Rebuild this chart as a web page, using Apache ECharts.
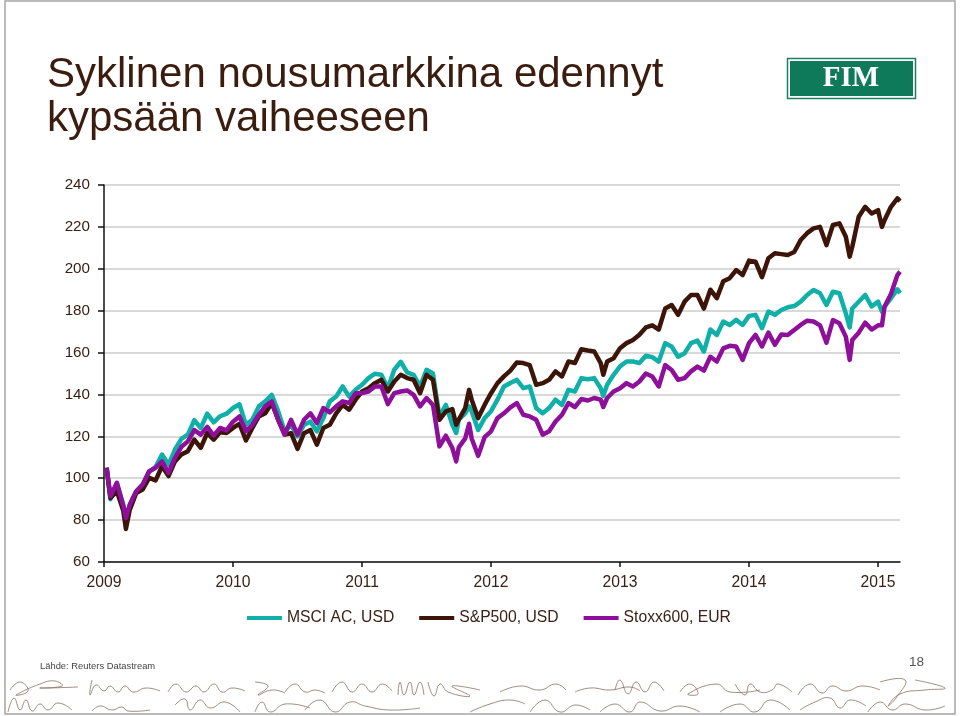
<!DOCTYPE html>
<html>
<head>
<meta charset="utf-8">
<title>Syklinen nousumarkkina</title>
<script src="https://cdn.jsdelivr.net/npm/echarts@6/dist/echarts.min.js"></script>
<style>
  html, body { margin: 0; padding: 0; background: #fff; }
  #chart { width: 960px; height: 716px; }
</style>
</head>
<body>
<div id="chart"></div>
<script>
const titleText = 'Syklinen nousumarkkina edennyt\nkypsään vaiheeseen';
const sourceText = 'Lähde: Reuters Datastream';
const pageNo = '18';
const yearTicks = [2009, 2010, 2011, 2012, 2013, 2014, 2015];

const dates = [
  2009.02, 2009.05, 2009.10, 2009.15, 2009.17, 2009.20, 2009.25, 2009.30, 2009.35, 2009.40, 2009.45,
  2009.50, 2009.55, 2009.60, 2009.65, 2009.70, 2009.75, 2009.80, 2009.85, 2009.90, 2009.95,
  2010.00, 2010.05, 2010.10, 2010.15, 2010.20, 2010.25, 2010.30, 2010.35, 2010.40, 2010.45,
  2010.50, 2010.55, 2010.60, 2010.65, 2010.70, 2010.75, 2010.80, 2010.85, 2010.90, 2010.95,
  2011.00, 2011.05, 2011.10, 2011.15, 2011.20, 2011.25, 2011.30, 2011.35, 2011.40, 2011.45, 2011.50,
  2011.55, 2011.60, 2011.65, 2011.70, 2011.73, 2011.75, 2011.80, 2011.83, 2011.85, 2011.90, 2011.95,
  2012.00, 2012.05, 2012.10, 2012.15, 2012.20, 2012.25, 2012.30, 2012.35, 2012.40, 2012.45, 2012.50,
  2012.55, 2012.60, 2012.65, 2012.70, 2012.75, 2012.80, 2012.85, 2012.87, 2012.90, 2012.95,
  2013.00, 2013.05, 2013.10, 2013.15, 2013.20, 2013.25, 2013.30, 2013.35, 2013.40, 2013.45,
  2013.50, 2013.55, 2013.60, 2013.65, 2013.70, 2013.75, 2013.80, 2013.85, 2013.90, 2013.95,
  2014.00, 2014.05, 2014.10, 2014.15, 2014.20, 2014.25, 2014.30, 2014.35, 2014.40, 2014.45, 2014.50,
  2014.55, 2014.60, 2014.65, 2014.70, 2014.75, 2014.78, 2014.80, 2014.85, 2014.90, 2014.95,
  2015.00, 2015.03, 2015.05, 2015.10, 2015.15, 2015.17
];

const msci = [
  105, 90, 97.5, 87.4, 81, 87.4, 93.8, 97, 103, 105.4, 111.3,
  106.5, 113.7, 118.8, 120.8, 127.7, 124, 130.8, 126.7, 129.6, 130.8,
  133.5, 135.3, 125.5, 128, 134.3, 136.7, 139.8, 132, 122.4, 125.5,
  120, 125.5, 127, 122.4, 128.7, 136.7, 139, 143.8, 139, 142.2,
  144.6, 147.8, 149.9, 149.4, 143, 151.8, 155.6, 150.5, 149.4, 143.8, 151.8,
  150, 129.5, 135, 125.5, 121.6, 128, 131, 134.3, 132, 123, 128.7,
  132, 137.5, 143.8, 145.5, 147, 143, 143.8, 133.5, 131, 133.5, 137.5,
  135, 142.2, 141.4, 147.8, 147.3, 147.8, 143, 139.4, 144.6, 149.4,
  153.4, 155.7, 155.7, 155, 158.5, 157.8, 155.7, 164.5, 162.9, 158,
  159.7, 164.5, 165.7, 160.5, 171, 168.4, 174.8, 173.2, 175.6, 173.2,
  177.5, 178, 171.6, 179.6, 178, 180.3, 181.6, 182.2, 184.3, 187.5, 189.9,
  188.3, 182.7, 189, 188.3, 178.7, 172, 181, 184.3, 187.5, 182,
  184.3, 179.5, 181.9, 185.9, 190.2, 188.3
];

const sp500 = [
  105, 90.6, 93.8, 84.3, 75.8, 85, 93, 94.6, 100.2, 99, 105.7,
  101, 108, 111.3, 112.9, 118.4, 114.5, 121.6, 118.4, 122, 121.6,
  124, 126, 118, 124, 129.5, 131, 135.9, 128, 120.8, 121.5,
  114, 121.5, 123, 116, 124, 125.5, 131, 135, 132.7, 137.5,
  141.4, 143, 145.4, 147, 141.4, 146.2, 149.4, 147.8, 147, 140.6, 149.4,
  147, 127.9, 131.9, 133, 125.5, 128, 133.5, 142.2, 137.5, 128.7, 135,
  140.6, 145.4, 148.6, 151.4, 155.3, 155, 154, 144.6, 145.4, 147, 151,
  148.6, 155.7, 155, 161.6, 161, 160.5, 155, 149.4, 155.7, 157.3,
  162.1, 164.5, 166, 168.5, 172, 173, 171, 181, 182.7, 178,
  184.3, 187.5, 187.5, 181, 190, 186, 194, 195.5, 199.4, 197,
  203.9, 203.4, 196, 205, 207.4, 207, 206.6, 208, 213.7, 217, 219.3,
  220, 211.3, 220.9, 221.7, 215.3, 205.8, 210.5, 224.8, 229.6, 226.4,
  228, 220, 223.2, 229.6, 233.6, 232.3
];

const stoxx = [
  105, 91.4, 97.8, 86.6, 81, 87.4, 93.8, 97, 103.3, 105, 108,
  102.5, 109.7, 115, 117.6, 123, 120.8, 124.5, 120.4, 124, 122.9,
  127, 129.5, 122.4, 125.5, 130.3, 134.3, 136.7, 127.9, 120.8, 127.9,
  120.8, 127.9, 131, 126.3, 133.5, 131.4, 134.3, 136.7, 135.9, 140.6,
  140.6, 141.4, 143.8, 143.8, 135.4, 140.6, 141.4, 141.9, 139.8, 134.3, 138.3,
  135, 115.2, 120.3, 114.4, 108, 114.7, 119, 126, 119, 110.7, 119.6,
  122.4, 128.7, 131, 133.8, 135.9, 130.3, 129.5, 127.9, 120.8, 122.4, 127.1,
  130.3, 135.9, 134, 137.8, 137.1, 138.3, 137.5, 134, 138.3, 141.4,
  143, 145.4, 143.8, 146.2, 150, 148.6, 143.8, 154, 151.7, 147,
  147.8, 151, 153.3, 151.4, 158, 155.7, 162, 163.2, 162.9, 156.5,
  164.5, 168.4, 162.9, 169.5, 163.7, 168.6, 168.4, 170.8, 173.2, 175.2, 174.8,
  173, 164.7, 175.5, 174, 167.6, 156.5, 166, 169.5, 174.3, 171,
  173, 173, 181.9, 188, 197, 198.6
];

const textColor = '#3b2115';

function toPairs(values) {
  return dates.map(function (d, i) { return [d, values[i]]; });
}

// allekirjoitukset alareunassa, vain koristeena
const scribbles = [
  [[10,690],[20,682],[28,691],[16,695],[40,684],[55,681],[62,686],[40,688],[78,687]],
  [[8,712],[14,698],[20,710],[26,700],[32,711],[40,704],[48,710],[58,703],[72,710]],
  [[92,680],[90,695],[96,685],[104,691],[110,686],[118,692],[125,686],[133,692],[146,688],[160,691]],
  [[92,711],[100,706],[112,710],[122,707],[128,711],[150,710]],
  [[168,692],[176,684],[186,692],[196,686],[204,692],[214,684],[222,692],[232,688],[245,691]],
  [[175,705],[185,699],[190,710],[200,700],[210,708],[225,702],[240,712]],
  [[255,682],[268,686],[258,695],[272,690],[285,693]],
  [[255,712],[262,702],[270,712],[285,704],[310,708]],
  [[285,692],[295,684],[305,692],[315,690],[325,693]],
  [[305,710],[320,700],[335,712],[350,702],[365,706],[390,710],[420,708]],
  [[332,692],[342,682],[352,692],[362,684],[372,692],[382,684],[392,691]],
  [[398,695],[400,682],[404,695],[410,682],[414,695],[420,682],[424,695]],
  [[428,682],[434,696],[440,684],[448,692],[470,696],[452,686],[480,690]],
  [[470,712],[490,704],[510,700],[525,704]],
  [[500,692],[520,686],[540,690],[556,684],[566,690]],
  [[530,712],[545,700],[560,712],[575,705],[590,710]],
  [[575,692],[590,688],[610,690],[630,687],[640,691]],
  [[615,690],[620,680],[628,694],[636,682],[645,692],[654,682],[664,691]],
  [[600,712],[615,704],[630,712],[640,702],[660,711],[680,706],[700,712]],
  [[680,692],[690,684],[698,694],[688,694],[716,684],[730,692],[760,690]],
  [[720,712],[740,704],[755,712],[770,700],[790,710]],
  [[735,684],[745,695],[750,684],[760,692],[772,690],[778,684],[792,692]],
  [[798,695],[810,684],[822,693],[832,686],[846,691],[862,686],[880,690]],
  [[800,710],[815,702],[830,698],[840,708],[850,700],[866,706]],
  [[880,682],[905,680],[896,698],[888,706],[900,694],[925,690],[945,688],[915,680]],
  [[868,712],[880,702],[892,710],[905,704],[925,710],[945,706]]
];

const chart = echarts.init(document.getElementById('chart'));
const option = {
  animation: false,
  title: {
    text: titleText,
    left: 47,
    top: 53,
    padding: 0,
    textStyle: {
      fontFamily: 'Liberation Sans',
      fontWeight: 'normal',
      fontSize: 42,
      lineHeight: 44,
      color: '#3b1d10'
    }
  },
  grid: { left: 104, top: 185, width: 796, height: 377 },
  xAxis: {
    type: 'value',
    min: 2009,
    max: 2015.17,
    splitLine: { show: false },
    axisLine: { lineStyle: { color: '#111', width: 1.5 } },
    axisTick: { customValues: yearTicks, length: 5, lineStyle: { color: '#111', width: 1.5 } },
    axisLabel: {
      customValues: yearTicks,
      margin: 13,
      fontFamily: 'Liberation Sans',
      fontSize: 15.7,
      color: textColor,
      formatter: function (v) { return String(v); }
    }
  },
  yAxis: {
    type: 'value',
    min: 60,
    max: 240,
    interval: 20,
    axisLine: { show: true, lineStyle: { color: '#111', width: 1.5 } },
    axisTick: { show: true, length: 6, lineStyle: { color: '#111', width: 1.5 } },
    splitLine: { lineStyle: { color: '#d9d9d9', width: 2 } },
    axisLabel: {
      margin: 14,
      padding: [4, 0, 0, 0],
      fontFamily: 'Liberation Sans',
      fontSize: 15.2,
      color: textColor
    }
  },
  legend: {
    left: 247,
    top: 610,
    padding: 0,
    icon: 'rect',
    itemWidth: 35,
    itemHeight: 4,
    itemGap: 25,
    textStyle: { fontFamily: 'Liberation Sans', fontSize: 15.7, color: textColor },
    data: ['MSCI AC, USD', 'S&P500, USD', 'Stoxx600, EUR']
  },
  series: [
    { name: 'MSCI AC, USD', type: 'line', data: toPairs(msci), showSymbol: false, symbol: 'none',
      lineStyle: { color: '#10b0a8', width: 4.5, join: 'round' }, itemStyle: { color: '#10b0a8' } },
    { name: 'S&P500, USD', type: 'line', data: toPairs(sp500), showSymbol: false, symbol: 'none',
      lineStyle: { color: '#3d1508', width: 4.5, join: 'round' }, itemStyle: { color: '#3d1508' } },
    { name: 'Stoxx600, EUR', type: 'line', data: toPairs(stoxx), showSymbol: false, symbol: 'none',
      lineStyle: { color: '#8e0f9a', width: 4.5, join: 'round' }, itemStyle: { color: '#8e0f9a' } }
  ],
  graphic: [
    // sivun kehys
    { type: 'rect', shape: { x: 5, y: 1, width: 950, height: 713 }, style: { fill: 'none', stroke: '#a5a5a5', lineWidth: 1.5 }, z: -1 },
    // logo
    { type: 'rect', shape: { x: 787.5, y: 58.5, width: 128, height: 40 }, style: { fill: '#fff', stroke: '#1c7f60', lineWidth: 1.5 } },
    { type: 'rect', shape: { x: 790, y: 61, width: 123, height: 35 }, style: { fill: '#0f7a5a' } },
    { type: 'text', x: 851, y: 79, style: { text: 'FIM', fill: '#fff', fontFamily: 'Liberation Serif', fontWeight: 'bold', fontSize: 29, align: 'center', verticalAlign: 'middle' } },
    // lähde ja sivunumero
    { type: 'text', x: 40, y: 666, style: { text: sourceText, fill: '#444', fontFamily: 'Liberation Sans', fontSize: 9.4, verticalAlign: 'middle' } },
    { type: 'text', x: 909, y: 662, style: { text: pageNo, fill: '#555', fontFamily: 'Liberation Sans', fontSize: 13.6, verticalAlign: 'middle' } }
  ].concat(scribbles.map(function (pts) {
    return { type: 'polyline', shape: { points: pts, smooth: 0.5 }, style: { fill: 'none', stroke: '#8a7060', lineWidth: 0.8 } };
  }))
};
chart.setOption(option);
</script>
</body>
</html>
